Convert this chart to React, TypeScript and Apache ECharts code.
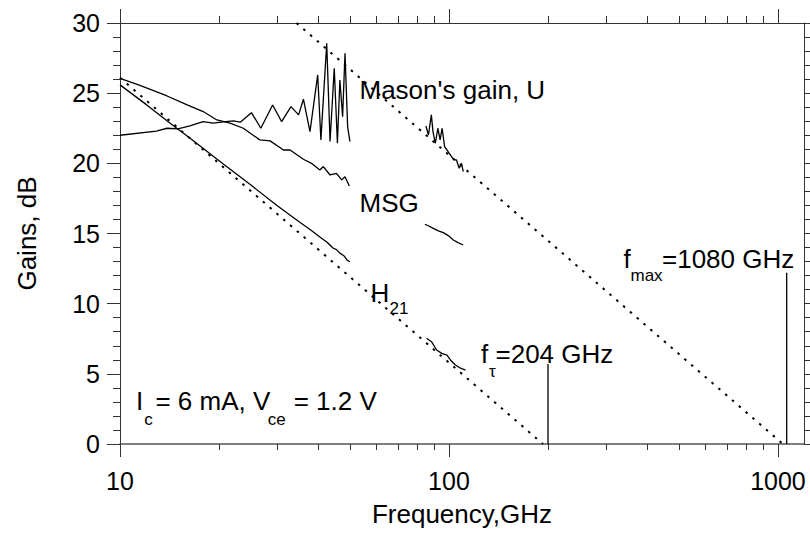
import { useEffect, useRef } from 'react';
import * as echarts from 'echarts';

// ---------- data (frequency in GHz, gain in dB) ----------
const masonLowFreq = [10, 12.9, 13.9, 15.0, 16.3, 17.9, 19.2, 20.6, 22.1, 23.2, 25.1, 26.8, 29.1, 31.0, 33.1, 34.9, 36.1, 37.8, 39.9, 40.8, 42.5, 43.5, 44.8, 45.8, 46.6, 47.5, 48.3, 49.2, 50.0];
const masonLowGain = [22.0, 22.3, 22.5, 22.45, 22.67, 22.97, 22.86, 22.95, 23.02, 22.93, 23.61, 22.5, 24.16, 22.97, 24.04, 23.45, 24.57, 22.26, 26.3, 21.67, 28.56, 21.55, 26.78, 21.43, 25.94, 23.33, 27.85, 22.6, 21.55];

const masonHighFreq = [85.1, 86.6, 88.4, 89.4, 90.9, 92.5, 94.0, 95.3, 97.0, 99.4, 101.8, 103.5, 105.4, 107.4, 109.2, 110.5];
const masonHighGain = [22.67, 22.02, 23.45, 22.26, 21.43, 22.5, 21.67, 22.5, 21.19, 20.83, 20.48, 20.24, 20.24, 19.65, 20.0, 19.41];

const msgLowFreq = [10, 11.5, 13.9, 16.0, 17.9, 19.7, 21.6, 23.7, 26.6, 28.6, 31.4, 32.9, 36.1, 38.2, 40.5, 41.5, 43.5, 45.5, 47.2, 48.3, 49.8];
const msgLowGain = [26.06, 25.55, 24.8, 24.16, 23.69, 23.09, 22.86, 22.5, 21.67, 21.6, 20.95, 20.95, 20.29, 20.0, 19.53, 19.77, 19.17, 19.29, 18.82, 19.05, 18.39];

const msgHighFreq = [84.5, 86.5, 89.6, 92.5, 96.1, 99.5, 103.1, 106.5, 110.5];
const msgHighGain = [15.66, 15.55, 15.37, 15.2, 15.06, 14.85, 14.54, 14.35, 14.18];

const h21LowFreq = [10, 12, 14.5, 16.3, 20.6, 25, 30, 35.2, 38, 40.5, 42.5, 44.5, 45.5, 46.6, 48, 49, 50];
const h21LowGain = [25.59, 24.2, 22.7, 21.8, 19.95, 18.45, 17.0, 15.8, 15.25, 14.75, 14.4, 13.95, 13.85, 13.6, 13.4, 13.1, 12.99];

const h21HighFreq = [85.5, 88.5, 91.7, 95.1, 98.6, 101, 104.6, 108.4, 112.3];
const h21HighGain = [7.53, 7.29, 6.7, 6.46, 6.34, 5.99, 5.63, 5.4, 5.27];

// -20 dB/decade extrapolations
const h21FitFreq = [10, 193];
const h21FitGain = [26.1, 0];
const uFitFreq = [34.4, 1035];
const uFitGain = [30, 0];

// marker lines at fT and fmax
const fTFreq = [200, 200];
const fTGain = [0, 5.7];
const fMaxFreq = [1063, 1063];
const fMaxGain = [0, 12.2];

// axes
const xMajorTicks = [10, 100, 1000];
const xMinorTicks = [20, 30, 40, 50, 60, 70, 80, 90, 200, 300, 400, 500, 600, 700, 800, 900];
const xMin = 10;
const xMax = 1200;
const yMin = 0;
const yMax = 30;
const yStep = 5;

const FONT = "'Liberation Sans', Arial, Helvetica, sans-serif";

const zip = (xs: number[], ys: number[]) => xs.map((x, i) => [x, ys[i]]);

const solid = (name: string, xs: number[], ys: number[]) => ({
  name,
  type: 'line',
  data: zip(xs, ys),
  showSymbol: false,
  symbol: 'none',
  lineStyle: { color: '#000', width: 1.3 },
  z: 3,
});

const dotted = (name: string, xs: number[], ys: number[]) => ({
  name,
  type: 'line',
  data: zip(xs, ys),
  showSymbol: false,
  symbol: 'none',
  lineStyle: { color: '#000', width: 2, type: [2.5, 6.5] },
  z: 2,
});

const txt = (text: string, x: number, y: number, size = 26) => ({
  type: 'text',
  x,
  y,
  silent: true,
  style: {
    text,
    fontSize: size,
    fontFamily: FONT,
    fill: '#000',
    align: 'left',
    verticalAlign: 'middle',
  },
  z: 10,
});

const baseX = {
  type: 'log',
  logBase: 10,
  min: xMin,
  max: xMax,
  gridIndex: 0,
  splitLine: { show: false },
};

const option: any = {
  animation: false,
  backgroundColor: '#ffffff',
  grid: { left: 120, right: 6, top: 23, bottom: 89, outerBoundsMode: 'none', containLabel: false },
  xAxis: [
    {
      ...baseX,
      position: 'bottom',
      name: 'Frequency,GHz',
      nameLocation: 'middle',
      nameGap: 57,
      nameTextStyle: { fontSize: 26, fontFamily: FONT, color: '#000' },
      axisLine: { show: true, lineStyle: { color: '#555', width: 1.6 } },
      axisTick: { show: true, inside: false, length: 13, customValues: xMajorTicks, lineStyle: { color: '#333', width: 1 } },
      axisLabel: {
        show: true,
        customValues: xMajorTicks,
        fontSize: 25,
        fontFamily: FONT,
        color: '#000',
        margin: 24,
        formatter: (v: number) => String(Math.round(v)),
      },
    },
    {
      ...baseX,
      position: 'bottom',
      axisLine: { show: false },
      axisTick: { show: true, inside: false, length: 6, customValues: xMinorTicks, lineStyle: { color: '#333', width: 1 } },
      axisLabel: { show: false },
    },
    {
      ...baseX,
      position: 'top',
      axisLine: { show: true, lineStyle: { color: '#333', width: 1 } },
      axisTick: { show: true, inside: false, length: 14, customValues: xMajorTicks, lineStyle: { color: '#333', width: 1 } },
      axisLabel: { show: false },
    },
    {
      ...baseX,
      position: 'top',
      axisLine: { show: false },
      axisTick: { show: true, inside: false, length: 7, customValues: xMinorTicks, lineStyle: { color: '#333', width: 1 } },
      axisLabel: { show: false },
    },
  ],
  yAxis: [
    {
      type: 'value',
      min: yMin,
      max: yMax,
      interval: yStep,
      position: 'left',
      name: 'Gains, dB',
      nameLocation: 'middle',
      nameGap: 80,
      nameTextStyle: { fontSize: 26, fontFamily: FONT, color: '#000' },
      axisLine: { show: true, lineStyle: { color: '#333', width: 1 } },
      axisTick: { show: true, inside: false, length: 13, lineStyle: { color: '#333', width: 1 } },
      minorTick: { show: true, splitNumber: 5, length: 7, lineStyle: { color: '#333', width: 1 } },
      axisLabel: { fontSize: 25, fontFamily: FONT, color: '#000', margin: 20 },
      splitLine: { show: false },
      minorSplitLine: { show: false },
    },
    {
      type: 'value',
      min: yMin,
      max: yMax,
      interval: yStep,
      position: 'right',
      axisLine: { show: true, lineStyle: { color: '#333', width: 1 } },
      axisTick: { show: true, inside: false, length: 13, lineStyle: { color: '#333', width: 1 } },
      minorTick: { show: true, splitNumber: 5, length: 7, lineStyle: { color: '#333', width: 1 } },
      axisLabel: { show: false },
      splitLine: { show: false },
      minorSplitLine: { show: false },
    },
  ],
  series: [
    dotted('H21 -20 dB/dec', h21FitFreq, h21FitGain),
    dotted('U -20 dB/dec', uFitFreq, uFitGain),
    solid("Mason's gain U (10-50 GHz)", masonLowFreq, masonLowGain),
    solid("Mason's gain U (85-110 GHz)", masonHighFreq, masonHighGain),
    solid('MSG (10-50 GHz)', msgLowFreq, msgLowGain),
    solid('MSG (85-110 GHz)', msgHighFreq, msgHighGain),
    solid('H21 (10-50 GHz)', h21LowFreq, h21LowGain),
    solid('H21 (85-112 GHz)', h21HighFreq, h21HighGain),
    solid('fT marker', fTFreq, fTGain),
    solid('fmax marker', fMaxFreq, fMaxGain),
  ],
  graphic: [
    txt("Mason's gain, U", 359.5, 90.2),
    txt('MSG', 359.5, 202.6),
    txt('H', 370.5, 292.6),
    txt('21', 389.5, 308.5, 17),
    txt('f', 481, 353.6),
    txt('\u03c4', 489, 371, 17),
    txt('=204 GHz', 495.5, 353.6),
    txt('f', 623.5, 259.2),
    txt('max', 630.5, 275.7, 17),
    txt('=1080 GHz', 662, 259.2),
    txt('I', 136, 401),
    txt('c', 144.3, 419, 17),
    txt('= 6 mA, V', 155.4, 401),
    txt('ce', 267.7, 419, 17),
    txt('= 1.2 V', 293.7, 401),
  ],
};

export default function App() {
  const ref = useRef<HTMLDivElement>(null);
  useEffect(() => {
    if (!ref.current) return;
    const chart = echarts.init(ref.current, null, { renderer: 'svg' });
    chart.setOption(option);
    return () => chart.dispose();
  }, []);
  return (
    <div
      ref={ref}
      style={{ position: 'fixed', left: 0, top: 0, width: 810, height: 533, background: '#fff' }}
    />
  );
}
